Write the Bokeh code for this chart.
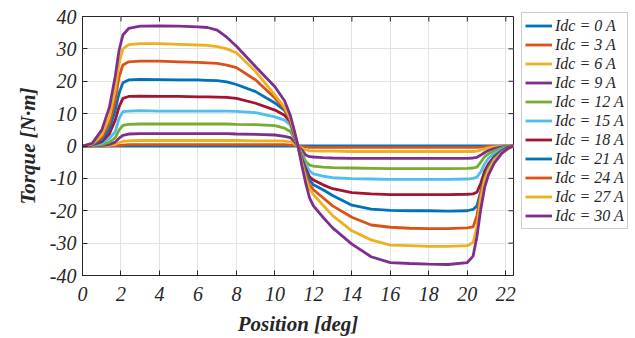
import math
from bokeh.plotting import figure
from bokeh.models import Legend, LegendItem, Range1d, FixedTicker
from bokeh.embed import file_html
from bokeh.resources import INLINE

# Rotor position [deg]
position = [0, 0.5, 1.0, 1.4, 1.7, 1.9, 2.1, 2.4, 3.0, 4.0, 5.0, 6.0, 6.5, 7.0, 7.5, 8.0, 9.0, 10.0,
            10.5, 10.8, 11.0, 11.2, 11.4, 11.6, 11.8, 12.0, 12.5, 13.0, 14.0, 15.0, 16.0, 17.0,
            18.0, 19.0, 20.0, 20.3, 20.5, 20.7, 20.9, 21.1, 21.4, 21.8, 22.1, 22.4]

labels = ["Idc = 0 A", "Idc = 3 A", "Idc = 6 A", "Idc = 9 A", "Idc = 12 A", "Idc = 15 A",
          "Idc = 18 A", "Idc = 21 A", "Idc = 24 A", "Idc = 27 A", "Idc = 30 A"]

t_0 = [0, 0, 0, 0, 0, 0, 0, 0, 0, 0, 0, 0, 0, 0, 0, 0, 0, 0,
       0, 0, 0, 0, 0, 0, 0, 0, 0, 0, 0, 0, 0, 0,
       0, 0, 0, 0, 0, 0, 0, 0, 0, 0, 0, 0]
t_3 = [0, 0, 0, 0.05, 0.1, 0.2, 0.3, 0.4, 0.45, 0.45, 0.45, 0.45, 0.45, 0.45, 0.45, 0.45, 0.45, 0.4,
       0.4, 0.3, 0.2, 0, -0.2, -0.3, -0.4, -0.4, -0.45, -0.45, -0.45, -0.45, -0.45, -0.45,
       -0.45, -0.45, -0.45, -0.45, -0.4, -0.35, -0.25, -0.15, -0.1, -0.05, 0, 0]
t_6 = [0, 0, 0.1, 0.2, 0.5, 1.0, 1.4, 1.6, 1.7, 1.7, 1.7, 1.7, 1.7, 1.7, 1.7, 1.7, 1.6, 1.6,
       1.5, 1.3, 0.8, 0, -0.6, -1.2, -1.4, -1.5, -1.6, -1.6, -1.7, -1.7, -1.7, -1.7,
       -1.7, -1.7, -1.7, -1.7, -1.6, -1.3, -0.9, -0.6, -0.3, -0.1, 0, 0]
t_9 = [0, 0.05, 0.2, 0.5, 1.2, 2.4, 3.3, 3.7, 3.8, 3.8, 3.8, 3.8, 3.8, 3.8, 3.8, 3.7, 3.6, 3.4,
       3.0, 2.6, 1.5, 0, -1.2, -2.8, -3.3, -3.4, -3.6, -3.7, -3.8, -3.8, -3.8, -3.8,
       -3.8, -3.8, -3.8, -3.7, -3.5, -2.8, -2.0, -1.4, -0.8, -0.3, -0.1, 0]
t_12 = [0, 0.1, 0.4, 1.2, 2.5, 4.9, 6.4, 6.7, 6.8, 6.8, 6.8, 6.8, 6.8, 6.8, 6.8, 6.7, 6.6, 6.3,
        5.5, 4.5, 2.5, 0, -2.2, -4.8, -5.9, -6.2, -6.5, -6.7, -6.8, -6.9, -7.0, -7.0,
        -7.0, -7.0, -6.9, -6.8, -6.5, -5.0, -3.3, -2.4, -1.5, -0.6, -0.2, 0]
t_15 = [0, 0.2, 0.8, 2.4, 4.4, 8.5, 10.6, 10.8, 10.9, 10.8, 10.8, 10.8, 10.8, 10.8, 10.8, 10.7, 10.3, 9.0,
        8.0, 6.5, 3.0, 0, -3.3, -5.8, -7.7, -8.6, -9.3, -9.8, -10.1, -10.2, -10.3, -10.3,
        -10.3, -10.3, -10.2, -10.0, -9.6, -8.0, -5.5, -3.8, -2.3, -1.0, -0.4, 0]
t_18 = [0, 0.3, 1.3, 3.8, 8.0, 12.1, 14.7, 15.3, 15.4, 15.3, 15.3, 15.2, 15.2, 15.1, 15.0, 14.7, 13.2, 11.1,
        9.5, 7.5, 3.5, 0, -3.8, -7.0, -9.5, -10.5, -12.0, -13.2, -14.4, -14.8, -15.0, -15.0,
        -15.0, -15.0, -14.9, -14.8, -14.3, -11.5, -7.8, -5.5, -3.3, -1.4, -0.5, 0]
t_21 = [0, 0.4, 1.9, 5.3, 11.1, 16.3, 19.5, 20.4, 20.6, 20.5, 20.4, 20.4, 20.3, 20.2, 19.8, 19.0, 16.8, 13.3,
        11.0, 8.0, 4.0, 0, -4.3, -8.0, -10.5, -12.0, -13.5, -15.3, -18.3, -19.5, -19.9, -20.0,
        -20.0, -20.1, -20.0, -19.6, -18.5, -14.0, -9.5, -6.4, -3.5, -1.5, -0.6, 0]
t_24 = [0, 0.5, 2.6, 7.0, 14.2, 21.4, 25.0, 26.0, 26.2, 26.2, 26.0, 25.8, 25.7, 25.5, 25.0, 24.2, 20.4, 14.8,
        11.5, 8.0, 4.0, 0, -4.8, -9.0, -12.0, -13.5, -16.0, -18.5, -22.0, -24.4, -25.1, -25.4,
        -25.5, -25.5, -25.3, -25.0, -21.5, -14.6, -10.0, -7.0, -4.0, -1.8, -0.8, 0]
t_27 = [0, 0.6, 3.4, 9.0, 17.3, 25.5, 30.0, 31.3, 31.6, 31.6, 31.4, 31.2, 31.1, 30.7, 30.0, 28.8, 23.0, 15.7,
        12.0, 8.5, 4.5, 0, -5.3, -10.0, -13.3, -15.0, -18.3, -21.5, -26.2, -29.0, -30.6, -30.8,
        -31.0, -31.0, -30.8, -29.8, -25.0, -16.0, -10.5, -7.4, -4.3, -2.0, -1.0, 0]
t_30 = [0, 0.8, 4.9, 12.0, 21.5, 29.5, 34.3, 36.3, 37.0, 37.1, 37.0, 36.8, 36.6, 35.8, 33.6, 30.8, 24.5, 18.3,
        14.0, 9.5, 5.0, 0, -6.0, -11.5, -16.0, -18.5, -22.0, -25.3, -30.3, -34.2, -36.0, -36.3,
        -36.5, -36.6, -36.0, -34.0, -28.0, -19.5, -12.8, -8.9, -5.3, -2.2, -0.8, 0]

series = [t_0, t_3, t_6, t_9, t_12, t_15, t_18, t_21, t_24, t_27, t_30]
palette = ["#0072BD", "#D95319", "#EDB120", "#7E2F8E", "#77AC30", "#4DBEEE", "#A2142F"]

x_ticks = [0, 2, 4, 6, 8, 10, 12, 14, 16, 18, 20, 22]
y_ticks = [-40, -30, -20, -10, 0, 10, 20, 30, 40]
y_tick_labels = ["-40", "-30", "-20", "-10", "0", "10", "20", "30", "40"]
X_MAX = 22.4
Y_MIN, Y_MAX = -40, 40

FONT = "Liberation Serif"
AX = "#262626"

p = figure(frame_width=431, frame_height=259, output_backend="svg", toolbar_location=None,
           x_range=Range1d(0, X_MAX), y_range=Range1d(Y_MIN, Y_MAX),
           min_border_left=82, min_border_right=0, min_border_top=16, min_border_bottom=60)
p.background_fill_color = "white"
p.border_fill_color = "white"
p.outline_line_color = AX
p.outline_line_width = 1

for ax in (p.xaxis[0], p.yaxis[0]):
    ax.major_label_text_font = FONT
    ax.major_label_text_font_style = "italic"
    ax.major_label_text_font_size = "20px"
    ax.major_label_text_color = AX
    ax.major_label_text_line_height = 1.0
    ax.axis_line_color = AX
    ax.major_tick_line_color = AX
    ax.major_tick_in = 5
    ax.major_tick_out = 0
    ax.minor_tick_line_color = None
    ax.axis_label_text_font = FONT
    ax.axis_label_text_font_style = "bold italic"
    ax.axis_label_text_font_size = "21px"
    ax.axis_label_text_color = AX
    ax.axis_label_text_line_height = 1.0

p.xaxis[0].ticker = FixedTicker(ticks=x_ticks)
p.yaxis[0].ticker = FixedTicker(ticks=y_ticks)
p.yaxis[0].major_label_overrides = dict(zip(y_ticks, y_tick_labels))
p.xaxis[0].axis_label = "Position [deg]"
p.yaxis[0].axis_label = "Torque [N·m]"
p.xaxis[0].major_label_standoff = 11
p.yaxis[0].major_label_standoff = 6
p.xaxis[0].axis_label_standoff = 8
p.yaxis[0].axis_label_standoff = 7

# inward ticks on the top and right edges of the box
p.ray(x=x_ticks, y=[Y_MAX] * len(x_ticks), length=5, length_units="screen",
      angle=-math.pi / 2, line_color=AX, line_width=1)
p.ray(x=[X_MAX] * len(y_ticks), y=y_ticks, length=5, length_units="screen",
      angle=math.pi, line_color=AX, line_width=1)

p.xgrid.ticker = FixedTicker(ticks=x_ticks)
p.ygrid.ticker = FixedTicker(ticks=y_ticks)
p.xgrid.grid_line_color = "#e3e3e3"
p.ygrid.grid_line_color = "#e3e3e3"

items = []
for i, (lab, ys) in enumerate(zip(labels, series)):
    r = p.line(position, ys, line_color=palette[i % 7], line_width=2.8)
    items.append(LegendItem(label=lab, renderers=[r]))

legend = Legend(items=items, location=(8, 46))
legend.label_text_font = FONT
legend.label_text_font_style = "italic"
legend.label_text_font_size = "16px"
legend.label_text_color = AX
legend.glyph_width = 27
legend.glyph_height = 19
legend.label_height = 19
legend.spacing = 0
legend.padding = 3
legend.margin = 6
legend.label_standoff = 3
legend.border_line_color = "#9a9a9a"
legend.border_line_width = 1
legend.background_fill_alpha = 1
p.add_layout(legend, "right")

open("out.html", "w").write(file_html(p, INLINE))
